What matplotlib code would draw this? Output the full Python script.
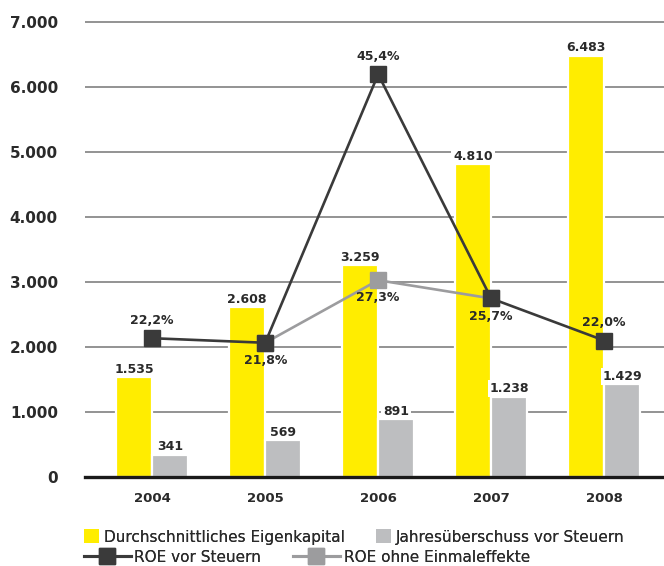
import matplotlib
matplotlib.use("Agg")
import matplotlib.pyplot as plt
import numpy as np
from matplotlib.patches import Patch
from matplotlib.lines import Line2D

years = ["2004", "2005", "2006", "2007", "2008"]
eigenkapital = [1535, 2608, 3259, 4810, 6483]
jahresueberschuss = [341, 569, 891, 1238, 1429]
roe_vor_steuern = [22.2, 21.8, 45.4, 25.7, 22.0]
roe_ohne_einmal = [np.nan, 21.8, 27.3, 25.7, np.nan]
y_ticks = [0, 1000, 2000, 3000, 4000, 5000, 6000, 7000]
y_tick_labels = ["0", "1.000", "2.000", "3.000", "4.000", "5.000", "6.000", "7.000"]
ek_labels = ["1.535", "2.608", "3.259", "4.810", "6.483"]
ju_labels = ["341", "569", "891", "1.238", "1.429"]
roe_labels = ["22,2%", "21,8%", "45,4%", "25,7%", "22,0%"]
roe_ohne_labels = ["", "", "27,3%", "", ""]
legend_names = ["Durchschnittliches Eigenkapital", "Jahresüberschuss vor Steuern",
                "ROE vor Steuern", "ROE ohne Einmaleffekte"]

YELLOW = "#FFED00"
GREY = "#BDBEC0"
DARK = "#3A3A3A"
LGREY = "#9C9C9E"
TXT = "#2A2A2A"

plt.rcParams['font.family'] = ['DejaVu Sans']

W, H = 664, 566
fig = plt.figure(figsize=(W/100, H/100), dpi=100)
# 65 px per 1000; y range 0..7100 so the top gridline is not clipped
ymax = 7100
top_px = 477 - 65 * ymax / 1000
ax = fig.add_axes([85/W, 89/H, 1 - 85/W, (477 - top_px)/H])
x = np.arange(len(years))
w = 0.32

ax.set_xlim(-0.595, 4.53)
ax.set_ylim(0, ymax)
ax.set_yticks(y_ticks)
ax.set_yticklabels(y_tick_labels, fontsize=11, fontweight='bold', color=TXT)
ax.set_xticks(x)
ax.set_xticklabels(years, fontsize=9.5, fontweight='bold', color=TXT)
ax.tick_params(axis='y', length=0, pad=19.5)
ax.tick_params(axis='x', length=0, pad=11)
for s in ['left', 'right', 'top']:
    ax.spines[s].set_visible(False)
ax.spines['bottom'].set_linewidth(2.4)
ax.spines['bottom'].set_color('#1a1a1a')
ax.spines['bottom'].set_zorder(5)
ax.yaxis.grid(True, color='#8A8A8A', linewidth=1.3, zorder=0)
ax.set_axisbelow(True)

ax.bar(x - w/2, eigenkapital, w, color=YELLOW, edgecolor='white', linewidth=1.6, zorder=2)
ax.bar(x + w/2, jahresueberschuss, w, color=GREY, edgecolor='white', linewidth=1.6, zorder=2)

for xi, v, t in zip(x, eigenkapital, ek_labels):
    ax.annotate(t, (xi - w/2, v), xytext=(0, 1), textcoords='offset points', ha='center', va='bottom',
                fontsize=9, fontweight='bold', color=TXT, zorder=3,
                bbox=dict(boxstyle='square,pad=0.15', fc='white', ec='none'))
for xi, v, t in zip(x, jahresueberschuss, ju_labels):
    ax.annotate(t, (xi + w/2, v), xytext=(0, 1), textcoords='offset points', ha='center', va='bottom',
                fontsize=9, fontweight='bold', color=TXT, zorder=3,
                bbox=dict(boxstyle='square,pad=0.15', fc='white', ec='none'))

ax2 = ax.twinx()
# ROE scale: 10 % at 0, 50 % at 7000 on the left axis
ax2.set_ylim(10, 10 + 40 * ymax / 7000)
ax2.set_xlim(ax.get_xlim())
ax2.axis('off')
ax2.plot(x, roe_ohne_einmal, color=LGREY, linewidth=1.9, marker='s', markersize=11.5, zorder=3)
ax2.plot(x, roe_vor_steuern, color=DARK, linewidth=1.9, marker='s', markersize=11.5, zorder=4)

offsets = [(0, 8, 'bottom'), (0, -8, 'top'), (0, 8, 'bottom'), (0, -8, 'top'), (0, 8, 'bottom')]
for xi, v, t, (dx, dy, va) in zip(x, roe_vor_steuern, roe_labels, offsets):
    ax2.annotate(t, (xi, v), xytext=(dx, dy), textcoords='offset points', ha='center', va=va,
                 fontsize=9, fontweight='bold', color=TXT, zorder=6)
for xi, v, t in zip(x, roe_ohne_einmal, roe_ohne_labels):
    if t:
        ax2.annotate(t, (xi, v), xytext=(0, -8), textcoords='offset points', ha='center', va='top',
                     fontsize=9, fontweight='bold', color=TXT, zorder=6)

LFS = 11
def add_item(handle, label, x_px, y_px, hl, pad):
    leg = fig.legend([handle], [label], loc='center left', bbox_to_anchor=(x_px/W, 1 - y_px/H),
                     frameon=False, fontsize=LFS, handlelength=hl, handleheight=1.0,
                     handletextpad=pad, borderaxespad=0, borderpad=0)
    for t in leg.get_texts():
        t.set_color(TXT)
    fig.add_artist(leg)

add_item(Patch(facecolor=YELLOW, edgecolor='none'), legend_names[0], 84, 537, 1.0, 0.28)
add_item(Patch(facecolor=GREY, edgecolor='none'), legend_names[1], 376, 537, 1.0, 0.28)
add_item(Line2D([0], [0], color=DARK, linewidth=2.2, marker='s', markersize=11.5), legend_names[2], 84, 557, 3.05, 0.2)
add_item(Line2D([0], [0], color=LGREY, linewidth=2.2, marker='s', markersize=11.5), legend_names[3], 293, 557, 3.05, 0.3)

fig.savefig("out.png", dpi=100)
